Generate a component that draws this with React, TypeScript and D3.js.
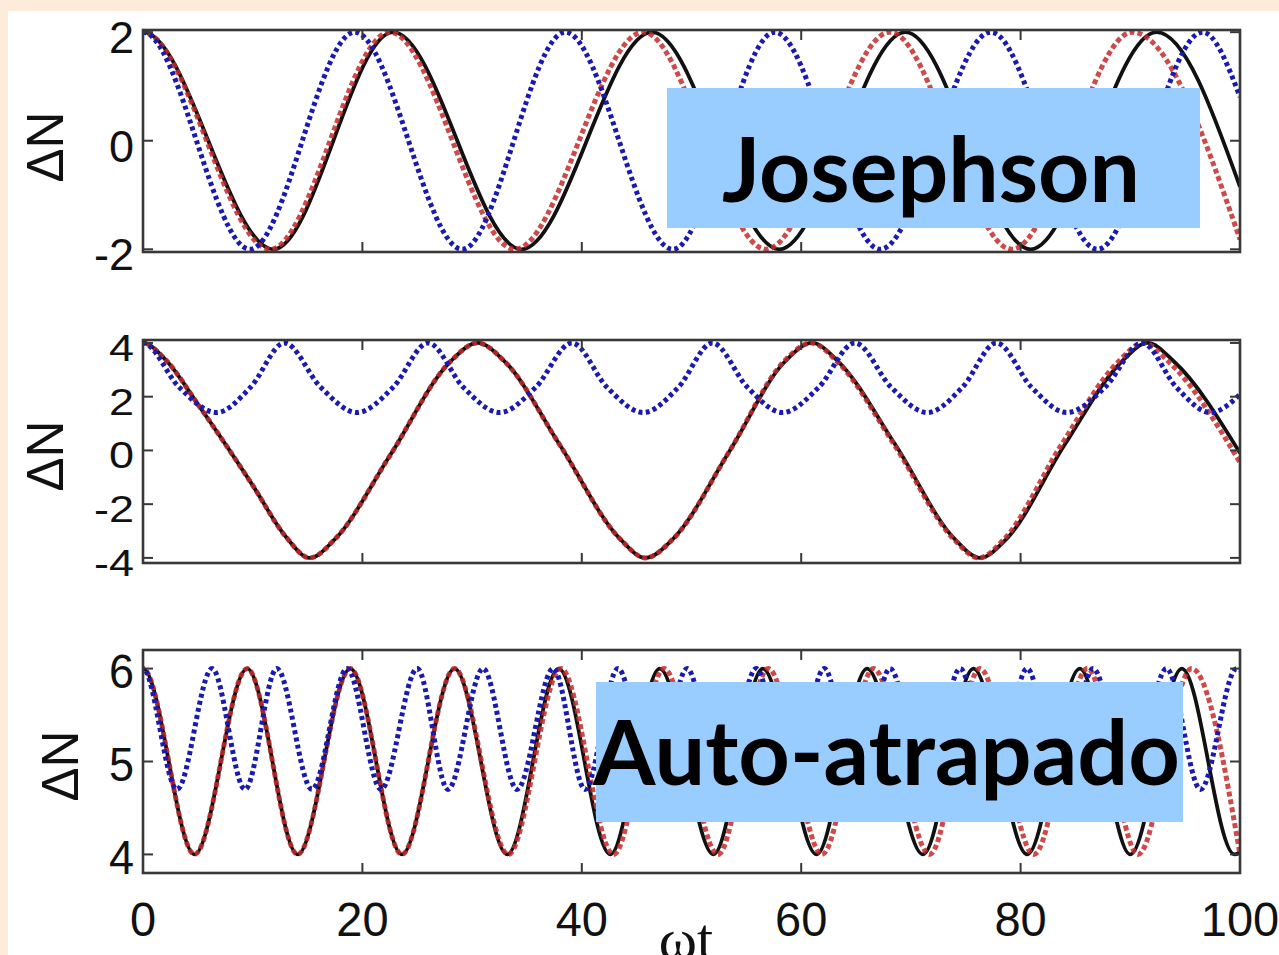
import React from 'react';
import * as d3 from 'd3';

type Pt = [number, number];

const W = 1279;
const H = 955;

const X_TICKS = [0, 20, 40, 60, 80, 100];
const P1_Y_TICKS = [-2, 0, 2];
const P2_Y_TICKS = [-4, -2, 0, 2, 4];
const P3_Y_TICKS = [4, 5, 6];

// Panel 1 (Josephson) — the first point lies just left of the axis (clipped) so each curve starts flat at its peak
const p1Black: Pt[] = [[-11.9, -2], [0, 2], [11.9, -2], [22.8, 2], [34.5, -2], [46.4, 2], [58, -2], [69.5, 2], [80.9, -2], [92.4, 2], [100, -0.85]];
const p1Red: Pt[] = [[-11.6, -2], [0, 2], [11.6, -2], [22.5, 2], [33.9, -2], [45.6, 2], [56.8, -2], [68.1, 2], [79.2, -2], [90.2, 2], [100, -1.82]];
const p1Blue: Pt[] = [[-9.75, -2], [0, 2], [9.75, -2], [19.3, 2], [29.1, -2], [38.5, 2], [48.3, -2], [57.6, 2], [67.2, -2], [77.3, 2], [87, -2], [96.6, 2], [100, 0.81]];

// Panel 2
const p2Black: Pt[] = [[-2, 3.4], [0, 4], [2, 3.4], [5.2, 1.6], [10, -1.3], [13, -3.2], [15.2, -4], [17.5, -3.3], [22.5, -0.2], [28, 3.3], [30.5, 4], [33, 3.3], [38, 0.2], [43.5, -3.3], [45.8, -4], [48.3, -3.3], [53.5, 0], [58.5, 3.3], [61, 4], [63.4, 3.3], [68.6, 0.2], [74, -3.3], [76.3, -4], [78.7, -3.3], [84, 0.2], [89.2, 3.3], [91.6, 4], [94, 3.3], [100, -0.1]];
const p2Red: Pt[] = [[-2, 3.4], [0, 4], [2, 3.4], [5.2, 1.6], [10, -1.3], [13, -3.2], [15.2, -4], [17.5, -3.3], [22.5, -0.2], [28, 3.3], [30.5, 4], [33, 3.3], [38, 0.2], [43.5, -3.3], [45.8, -4], [48.3, -3.3], [53.5, 0], [58.4, 3.3], [60.9, 4], [63.3, 3.3], [68.5, 0.2], [73.9, -3.3], [76.2, -4], [78.5, -3.3], [83.7, 0.2], [88.9, 3.3], [91.2, 4], [93.5, 3.3], [100, -0.45]];
const p2Blue: Pt[] = [[-3.3, 2.35], [0, 4], [3.3, 2.35], [6.7, 1.41], [9.8, 2.35], [12.9, 4], [16.2, 2.35], [19.5, 1.41], [22.8, 2.35], [26, 4], [29.2, 2.35], [32.5, 1.41], [35.8, 2.35], [39.1, 4], [42.3, 2.35], [45.6, 1.41], [48.8, 2.35], [51.9, 4], [55.1, 2.35], [58.3, 1.41], [61.6, 2.35], [64.9, 4], [68.2, 2.35], [71.5, 1.41], [74.7, 2.35], [77.8, 4], [81, 2.35], [84.2, 1.41], [87.7, 2.35], [91.1, 4], [94.2, 2.35], [97.3, 1.41], [100, 2.08]];

// Panel 3 (Auto-atrapado)
const p3Black: Pt[] = [[-4.7, 4], [0, 6], [4.7, 4], [9.5, 6], [14.1, 4], [18.9, 6], [23.6, 4], [28.4, 6], [33.2, 4], [37.9, 6], [42.6, 4], [47.1, 6], [52, 4], [56.5, 6], [61.4, 4], [66, 6], [71.1, 4], [75.7, 6], [80.6, 4], [85.4, 6], [90, 4], [94.7, 6], [99.5, 4], [100, 4.02]];
const p3Red: Pt[] = [[-4.7, 4], [0, 6], [4.7, 4], [9.5, 6], [14.1, 4], [18.9, 6], [23.6, 4], [28.4, 6], [33.3, 4], [38.1, 6], [42.9, 4], [47.5, 6], [52.4, 4], [57, 6], [61.9, 4], [66.6, 6], [71.7, 4], [76.3, 6], [81.2, 4], [86.1, 6], [90.7, 4], [95.6, 6], [100, 4]];
const p3Blue: Pt[] = [[-3.1, 4.7], [0, 6], [3.1, 4.7], [6.3, 6], [9.3, 4.7], [12.2, 6], [15.4, 4.7], [18.6, 6], [21.7, 4.7], [25, 6], [27.8, 4.7], [31, 6], [34.1, 4.7], [37.4, 6], [40.3, 4.7], [43.3, 6], [46.5, 4.7], [49.6, 6], [52.7, 4.7], [55.9, 6], [59, 4.7], [62.1, 6], [65.1, 4.7], [68.1, 6], [71.3, 4.7], [74.5, 6], [77.5, 4.7], [80.6, 6], [83.6, 4.7], [86.6, 6], [90, 4.7], [93.3, 6], [96.4, 4.7], [99.7, 6], [100, 5.99]];

const BOX_LABELS = ['Josephson', 'Auto-atrapado'];
const X_LABEL = 'ωt';
const Y_LABEL = 'ΔN';

const X_LEFT = 143;
const X_RIGHT = 1240;

const panels = [
  { top: 30, bottom: 252, domain: [-2.05, 2.04], ticks: P1_Y_TICKS, black: p1Black, red: p1Red, blue: p1Blue, sy: 1.0, dy: 5, ylx: 63, yly: 147, showX: false },
  { top: 340, bottom: 563, domain: [-4.19, 4.11], ticks: P2_Y_TICKS, black: p2Black, red: p2Red, blue: p2Blue, sy: 0.8, dy: 5, ylx: 63, yly: 456, showX: false },
  { top: 650, bottom: 873, domain: [3.8, 6.2], ticks: P3_Y_TICKS, black: p3Black, red: p3Red, blue: p3Blue, sy: 1.08, dy: 2, ylx: 78, yly: 766, showX: true },
];

const boxes = [
  { x0: 667, x1: 1200, y0: 88, y1: 228, text: BOX_LABELS[0], tx: 722, tw: 418, base: 202 },
  { x0: 596, x1: 1183, y0: 682, y1: 822, text: BOX_LABELS[1], tx: 593, tw: 587, base: 785 },
];

const TICK_FONT = '"Liberation Sans", Arial, Helvetica, sans-serif';
const FRAME = '#383838';

export default function App() {
  const x = d3.scaleLinear().domain([0, 100]).range([X_LEFT, X_RIGHT]);
  return (
    <svg width={W} height={H} style={{ position: 'absolute', left: 0, top: 0, display: 'block' }}>
      <rect x={0} y={0} width={W} height={H} fill="#fcecd9" />
      <rect x={8} y={11} width={W - 8} height={H - 11} fill="#ffffff" />
      {panels.map((p, i) => {
        const y = d3.scaleLinear().domain(p.domain).range([p.bottom, p.top]);
        const line = d3.line<Pt>().x(d => x(d[0])).y(d => y(d[1])).curve(d3.curveMonotoneX);
        const clipId = `clip${i}`;
        return (
          <g key={i}>
            <defs>
              <clipPath id={clipId}>
                <rect x={X_LEFT} y={p.top - 2} width={X_RIGHT - X_LEFT} height={p.bottom - p.top + 4} />
              </clipPath>
            </defs>
            <g clipPath={`url(#${clipId})`}>
              <path d={line(p.black) || ''} fill="none" stroke="#111" strokeWidth={3.8} />
              <path d={line(p.red) || ''} fill="none" stroke="#c62a2a" strokeOpacity={0.85} strokeWidth={5} strokeDasharray="5,3" />
              <path d={line(p.blue) || ''} fill="none" stroke="#1a1ab0" strokeWidth={5} strokeDasharray="4,3.3" />
            </g>
            <rect x={X_LEFT} y={p.top} width={X_RIGHT - X_LEFT} height={p.bottom - p.top} fill="none" stroke={FRAME} strokeWidth={2.6} />
            {p.ticks.map(t => (
              <g key={`yt${t}`}>
                <line x1={X_LEFT} x2={X_LEFT + 10} y1={y(t)} y2={y(t)} stroke={FRAME} strokeWidth={2} />
                <line x1={X_RIGHT - 10} x2={X_RIGHT} y1={y(t)} y2={y(t)} stroke={FRAME} strokeWidth={2} />
                <text transform={`translate(134, ${y(t) + p.dy}) scale(1, ${p.sy})`} dy="0.36em" textAnchor="end" fontFamily={TICK_FONT} fontSize={45} fill="#111">
                  {t}
                </text>
              </g>
            ))}
            {X_TICKS.map(t => (
              <g key={`xt${t}`}>
                <line x1={x(t)} x2={x(t)} y1={p.top} y2={p.top + 10} stroke={FRAME} strokeWidth={2} />
                <line x1={x(t)} x2={x(t)} y1={p.bottom - 10} y2={p.bottom} stroke={FRAME} strokeWidth={2} />
                {p.showX && (
                  <text transform={`translate(${x(t)}, 918) scale(1, 1.04)`} dy="0.36em" textAnchor="middle" fontFamily={TICK_FONT} fontSize={47} fill="#111">
                    {t}
                  </text>
                )}
              </g>
            ))}
            <text transform={`translate(${p.ylx}, ${p.yly}) rotate(-90)`} textAnchor="middle" fontFamily={TICK_FONT} fontSize={51} fill="#111">
              {Y_LABEL}
            </text>
          </g>
        );
      })}
      <text x={686} y={958} textAnchor="middle" fontFamily='"Liberation Serif", "Times New Roman", serif' fontSize={58} fill="#111">{X_LABEL}</text>
      {boxes.map((b, i) => (
        <g key={`b${i}`}>
          <rect x={b.x0} y={b.y0} width={b.x1 - b.x0} height={b.y1 - b.y0} fill="#99ccff" />
          <text x={b.tx} y={b.base} textLength={b.tw} lengthAdjust="spacingAndGlyphs" fontFamily="Lato, 'Open Sans', sans-serif" fontWeight={700} fontSize={90} fill="#000">
            {b.text}
          </text>
        </g>
      ))}
    </svg>
  );
}
